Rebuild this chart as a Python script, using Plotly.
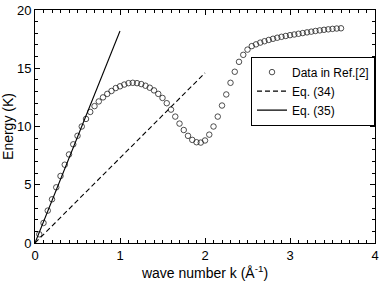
import plotly.graph_objects as go

# Data in Ref.[2]
k_data = [0.05, 0.10, 0.15, 0.20, 0.25, 0.30, 0.35, 0.40, 0.45, 0.50,
          0.55, 0.60, 0.65, 0.70, 0.75, 0.80, 0.85, 0.90, 0.95, 1.00,
          1.05, 1.10, 1.15, 1.20, 1.25, 1.30, 1.35, 1.40, 1.45, 1.50,
          1.55, 1.60, 1.65, 1.70, 1.75, 1.80, 1.85, 1.90, 1.95, 2.00,
          2.05, 2.10, 2.15, 2.20, 2.25, 2.30, 2.35, 2.40, 2.45, 2.50,
          2.55, 2.60, 2.65, 2.70, 2.75, 2.80, 2.85, 2.90, 2.95, 3.00,
          3.05, 3.10, 3.15, 3.20, 3.25, 3.30, 3.35, 3.40, 3.45, 3.50,
          3.55, 3.60]
E_data = [0.75, 1.72, 2.78, 3.75, 4.78, 5.75, 6.72, 7.60, 8.47, 9.20,
          10.0, 10.65, 11.25, 11.75, 12.15, 12.50, 12.80, 13.05, 13.30, 13.45,
          13.60, 13.72, 13.75, 13.72, 13.64, 13.50, 13.33, 13.10, 12.80, 12.45,
          12.00, 11.45, 10.85, 10.25, 9.70, 9.20, 8.85, 8.65, 8.62, 8.80,
          9.30, 10.00, 10.85, 11.80, 12.75, 13.75, 14.70, 15.55, 16.15, 16.60,
          16.90, 17.05, 17.20, 17.32, 17.43, 17.53, 17.62, 17.70, 17.77, 17.84,
          17.90, 17.96, 18.02, 18.08, 18.14, 18.20, 18.25, 18.30, 18.34, 18.38,
          18.41, 18.43]

# Eq. (34) and Eq. (35)
k_eq34 = [0.0, 2.0]
E_eq34 = [0.0, 14.6]
k_eq35 = [0.0, 1.0]
E_eq35 = [0.0, 18.2]

x_ticks = [0, 1, 2, 3, 4]
y_ticks = [0, 5, 10, 15, 20]

FONT = "Liberation Sans, Arial, sans-serif"

fig = go.Figure()
fig.add_trace(go.Scatter(
    x=k_data, y=E_data, mode="markers", name="Data in Ref.[2]",
    marker=dict(symbol="circle-open", size=5.5, color="#222222", line=dict(width=0.8)),
))
fig.add_trace(go.Scatter(
    x=k_eq34, y=E_eq34, mode="lines", name="Eq. (34)",
    line=dict(color="black", width=1.1, dash="5px,3px"),
))
fig.add_trace(go.Scatter(
    x=k_eq35, y=E_eq35, mode="lines", name="Eq. (35)",
    line=dict(color="black", width=1.1),
))

axis_common = dict(
    showgrid=False, zeroline=False, showline=True, linecolor="black", linewidth=1,
    mirror="allticks", ticks="inside", ticklen=5, tickcolor="black", tickwidth=1,
    tickfont=dict(family=FONT, size=13, color="black"),
    ticklabeloverflow="allow",
)

fig.update_xaxes(
    range=[0, 4], tickvals=x_ticks, ticktext=[str(v) for v in x_ticks],
    minor=dict(dtick=0.1, ticks="inside", ticklen=3, tickcolor="black"),
    title=dict(text="wave number k (Å<sup>-1</sup>)", font=dict(family=FONT, size=14, color="black"), standoff=6),
    **axis_common,
)
fig.update_yaxes(
    range=[0, 20], tickvals=y_ticks, ticktext=[str(v) for v in y_ticks],
    minor=dict(dtick=1, ticks="inside", ticklen=3, tickcolor="black"),
    title=dict(text="Energy (K)", font=dict(family=FONT, size=14, color="black"), standoff=4),
    **axis_common,
)

fig.update_layout(
    width=382, height=281,
    margin=dict(l=35, r=3, t=5, b=36),
    plot_bgcolor="white", paper_bgcolor="white",
    font=dict(family=FONT, size=12, color="black"),
    legend=dict(
        x=1, y=0.80, xanchor="right", yanchor="top",
        bgcolor="white", bordercolor="black", borderwidth=1,
        font=dict(family=FONT, size=12, color="black"),
        tracegroupgap=0, itemwidth=30,
    ),
)

fig.write_html(
    "out.html",
    config={"displayModeBar": False},
    post_script="document.body.style.margin='0';document.body.style.overflow='hidden';",
)
